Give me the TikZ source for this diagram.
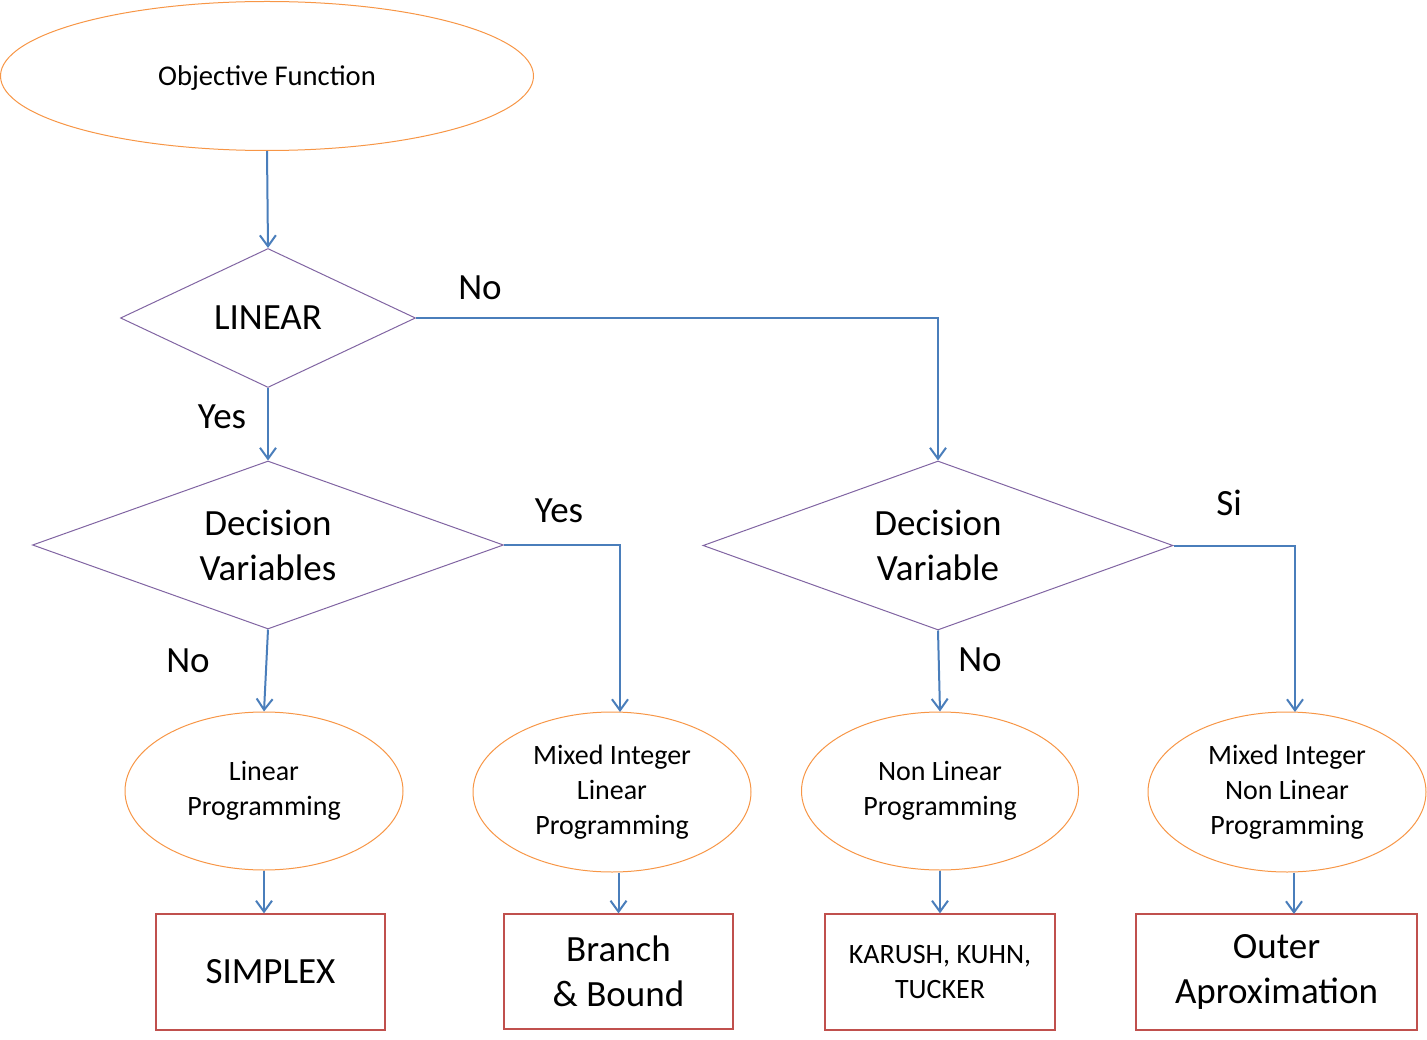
\documentclass[tikz,border=0pt]{standalone}
\usepackage{fontspec}
\setmainfont{Carlito}
\usetikzlibrary{shapes.geometric,arrows.meta}
\definecolor{conn}{HTML}{4A7EBB}
\definecolor{dia}{HTML}{8064A2}
\definecolor{ell}{HTML}{F79646}
\definecolor{box}{HTML}{C0504D}
\tikzset{
  x=1pt,y=-1pt,
  big/.style={font=\fontsize{37}{45}\selectfont},
  small/.style={font=\fontsize{28}{35}\selectfont},
  ellnode/.style={ellipse,draw=ell,line width=1pt,inner sep=0pt,align=center,small},
  dianode/.style={diamond,draw=dia,line width=1pt,inner sep=0pt,align=center,big},
  boxnode/.style={rectangle,draw=box,line width=1.2pt,inner sep=0pt,align=center},
  conn/.style={draw=conn,line width=2pt,-{Straight Barb[length=11pt,width=16pt,line width=2pt]}},
  lbl/.style={big,inner sep=0pt}
}
\begin{document}
\begin{tikzpicture}
\useasboundingbox (0,0) rectangle (1427,1040);
\node[ellnode,minimum width=533,minimum height=149,font=\fontsize{28.6}{35}\selectfont,text height=19.5pt,text depth=0pt] (obj) at (267,76) {Objective Function};
\node[dianode,minimum width=295,minimum height=139,shape aspect=2.12] (lin) at (268,318) {LINEAR};
\node[dianode,minimum width=471,minimum height=168,shape aspect=2.8] (dv1) at (268,545) {Decision\\Variables};
\node[dianode,minimum width=470,minimum height=169,shape aspect=2.8] (dv2) at (938,545.5) {Decision\\Variable};
\node[ellnode,minimum width=278,minimum height=158] (lp) at (264,791) {Linear\\Programming};
\node[ellnode,minimum width=278,minimum height=160] (milp) at (612,792) {Mixed Integer\\Linear\\Programming};
\node[ellnode,minimum width=277,minimum height=158] (nlp) at (940,791) {Non Linear\\Programming};
\node[ellnode,minimum width=278,minimum height=160] (minlp) at (1287,792) {Mixed Integer\\Non Linear\\Programming};
\node[boxnode,big,minimum width=229,minimum height=116] (simplex) at (270.5,972) {SIMPLEX};
\node[boxnode,big,minimum width=229,minimum height=115] (bb) at (618.5,971.5) {Branch\\\& Bound};
\node[boxnode,small,minimum width=230,minimum height=116] (kkt) at (940,972) {KARUSH, KUHN,\\TUCKER};
\node[boxnode,big,minimum width=281,minimum height=116] (outer) at (1276.5,972) {Outer\\Aproximation};
\node[lbl] (l1) at (480,288) {No};
\node[lbl] (l2) at (222,417) {Yes};
\node[lbl] (l3) at (559,511) {Yes};
\node[lbl] (l4) at (188,661) {No};
\node[lbl] (l5) at (1229,503) {Si};
\node[lbl] (l6) at (980,660) {No};
\coordinate (milpin) at (620,712);
\coordinate (minlpin) at (1295,712);
\coordinate (outin) at (1294,914);
\draw[conn] (obj.south) -- (lin.north);
\draw[conn] (lin.south) -- (dv1.north);
\draw[conn] (lin.east) -| (dv2.north);
\draw[conn] (dv1.south) -- (lp.north);
\draw[conn] (dv1.east) -| (milpin);
\draw[conn] (dv2.south) -- (nlp.north);
\draw[conn] (dv2.east) -| (minlpin);
\draw[conn] (lp.south) -- (lp.south |- simplex.north);
\draw[conn] (bb.north |- milp.south) -- (bb.north);
\draw[conn] (nlp.south) -- (kkt.north);
\draw[conn] (outin |- minlp.south) -- (outin);
\end{tikzpicture}
\end{document}
